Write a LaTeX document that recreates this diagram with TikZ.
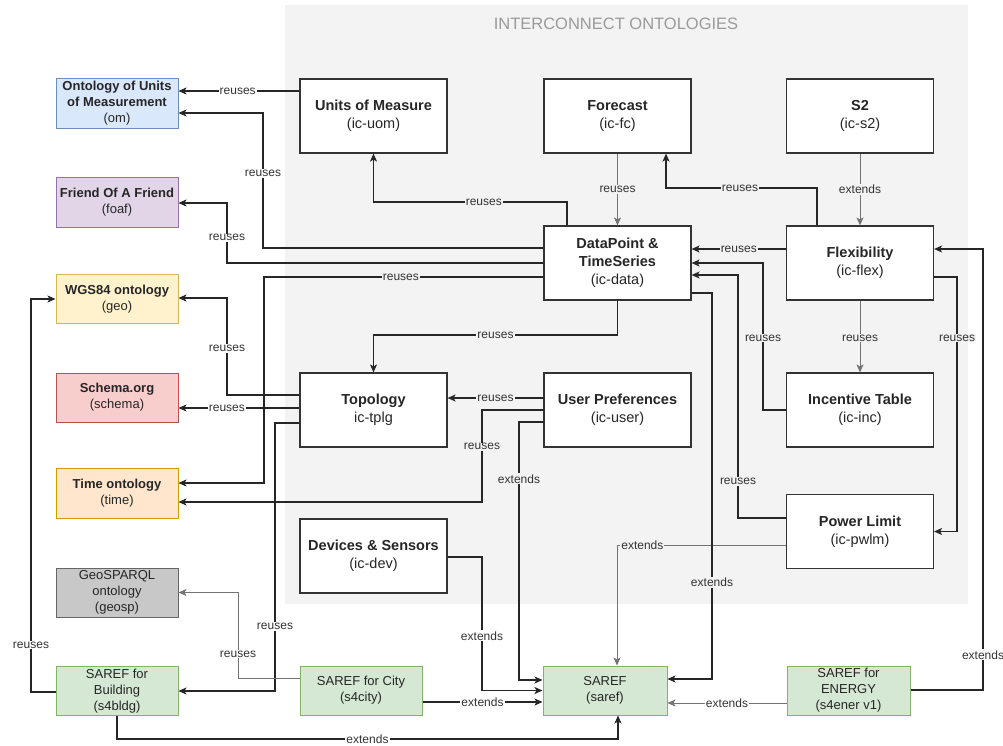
\documentclass[tikz,border=0pt]{standalone}
\usepackage{fontspec}
\setmainfont{Liberation Sans}
\usetikzlibrary{arrows.meta}
\definecolor{bggray}{HTML}{F3F3F3}
\definecolor{omf}{HTML}{DAE8FC}\definecolor{omd}{HTML}{6C8EBF}
\definecolor{fof}{HTML}{E1D5E7}\definecolor{fod}{HTML}{9673A6}
\definecolor{gef}{HTML}{FFF2CC}\definecolor{ged}{HTML}{D6B656}
\definecolor{scf}{HTML}{F8CECC}\definecolor{scd}{HTML}{B85450}
\definecolor{tif}{HTML}{FFE6CC}\definecolor{tid}{HTML}{D79B00}
\definecolor{gsf}{HTML}{C8C8C8}\definecolor{gsd}{HTML}{666666}
\definecolor{grf}{HTML}{D5E8D4}\definecolor{grd}{HTML}{82B366}
\definecolor{titlegray}{HTML}{9A9A9A}
\tikzset{
  icbox/.style={draw=black!80, line width=1.2pt, fill=white, minimum width=147pt, minimum height=74pt,
    align=center, font=\fontsize{14.5}{18}\selectfont, text=black!85, inner sep=2pt},
  extbox/.style={line width=1pt, minimum width=122pt, minimum height=49pt,
    align=center, font=\fontsize{13}{16}\selectfont, text=black!85, inner sep=1pt},
  arr/.style={draw=black!85, line width=1.1pt, -{Stealth[length=8pt,width=7pt,inset=2pt]}},
  larr/.style={arr, draw=black!55, line width=0.9pt},
  lblg/.style={fill=bggray, font=\fontsize{12}{12}\selectfont, text=black!80, inner sep=1pt},
  lblw/.style={lblg, fill=white},
}
\begin{document}
\begin{tikzpicture}[x=1pt,y=-1pt]
\useasboundingbox (0,0) rectangle (1003,745);
\fill[white] (0,0) rectangle (1003,745);
\fill[bggray] (285,5) rectangle (968,604);
\node[font=\fontsize{16.5}{18}\selectfont, text=titlegray] (title) at (616,24) {INTERCONNECT ONTOLOGIES};

% interconnect nodes
\node[icbox] (uom) at (373.5,116) {\textbf{Units of Measure}\\(ic-uom)};
\node[icbox] (fc) at (617.5,116) {\textbf{Forecast}\\(ic-fc)};
\node[icbox] (s2) at (860,116) {\textbf{S2}\\(ic-s2)};
\node[icbox] (data) at (617.5,263) {\textbf{DataPoint \&}\\\textbf{TimeSeries}\\(ic-data)};
\node[icbox] (flex) at (860,263) {\textbf{Flexibility}\\(ic-flex)};
\node[icbox] (tplg) at (373.5,410) {\textbf{Topology}\\ic-tplg};
\node[icbox] (user) at (617.5,410) {\textbf{User Preferences}\\(ic-user)};
\node[icbox] (inc) at (860,410) {\textbf{Incentive Table}\\(ic-inc)};
\node[icbox] (pwlm) at (860,531.5) {\textbf{Power Limit}\\(ic-pwlm)};
\node[icbox] (dev) at (373.5,556) {\textbf{Devices \& Sensors}\\(ic-dev)};

% external ontologies
\node[extbox, draw=omd, fill=omf, minimum height=50pt] (om) at (117,103) {\textbf{Ontology of Units}\\\textbf{of Measurement}\\(om)};
\node[extbox, draw=fod, fill=fof, minimum height=50pt] (foaf) at (117,202) {\textbf{Friend Of A Friend}\\(foaf)};
\node[extbox, draw=ged, fill=gef] (geo) at (117,299) {\textbf{WGS84 ontology}\\(geo)};
\node[extbox, draw=scd, fill=scf] (schema) at (117,397.5) {\textbf{Schema.org}\\(schema)};
\node[extbox, draw=tid, fill=tif, minimum height=50pt] (time) at (117,493) {\textbf{Time ontology}\\(time)};
\node[extbox, draw=gsd, fill=gsf] (geosp) at (117,592.5) {GeoSPARQL\\ontology\\(geosp)};
\node[extbox, draw=grd, fill=grf] (s4bldg) at (117,691) {SAREF for\\Building\\(s4bldg)};
\node[extbox, draw=grd, fill=grf] (s4city) at (361,690.5) {SAREF for City\\(s4city)};
\node[extbox, draw=grd, fill=grf, minimum width=124pt] (saref) at (605,690.5) {SAREF\\(saref)};
\node[extbox, draw=grd, fill=grf, minimum width=123pt] (s4ener) at (848.5,690.5) {SAREF for\\ENERGY\\(s4ener v1)};

% connectors
\draw[arr] ([yshift=25pt]uom.west) -- node[lblw,pos=0.51]{reuses} ([yshift=12pt]om.east);
\draw[arr] ([yshift=15pt]data.west) -- (263,248) -- node[lblw,pos=0.55]{reuses} (263,113) -- ([yshift=-10pt]om.east);
\draw[arr] (data.west) -- (227,263) -- node[lblw,pos=0.42]{reuses} (227,203) -- ([yshift=-1pt]foaf.east);
\draw[arr] ([yshift=-14pt]data.west) -- node[lblg,pos=0.51]{reuses} (264,277) -- (264,483) -- ([yshift=10pt]time.east);
\draw[arr] ([xshift=-50.5pt]data.north) -- (567,202) -- node[lblg,pos=0.43]{reuses} (373.5,202) -- (uom.south);
\draw[larr] (fc.south) -- node[lblg]{reuses} (data.north);
\draw[arr] ([xshift=-43pt]flex.north) -- (817,188) -- node[lblg,pos=0.51]{reuses} (666,188) -- ([xshift=48.5pt]fc.south);
\draw[larr] (s2.south) -- node[lblg]{extends} (flex.north);
\draw[arr] ([yshift=14pt]flex.west) -- node[lblg]{reuses} ([yshift=14pt]data.east);
\draw[arr] (inc.west) -- (763,410) -- node[lblg,pos=0.49]{reuses} (763,263) -- (data.east);
\draw[arr] ([yshift=13.5pt]pwlm.west) -- (738,518) -- node[lblg,pos=0.15]{reuses} (738,275) -- ([yshift=-12pt]data.east);
\draw[larr] (flex.south) -- node[lblg,pos=0.52]{reuses} (inc.north);
\draw[arr] ([yshift=-14pt]flex.east) -- (957,277) -- node[lblg,pos=0.24]{reuses} (957,531.5) -- (pwlm.east);
\draw[arr] (data.south) -- (617.5,335) -- node[lblg,pos=0.5]{reuses} (373.5,335) -- (tplg.north);
\draw[arr] ([yshift=12pt]user.west) -- node[lblg]{reuses} ([yshift=12pt]tplg.east);
\draw[arr] (user.west) -- (482,410) -- node[lblg,pos=0.4]{reuses} (482,502) -- ([yshift=-9pt]time.east);
\draw[arr] ([yshift=-12pt]user.west) -- (519,422) -- node[lblg,pos=0.22]{extends} (519,680) -- ([yshift=10.5pt]saref.west);
\draw[arr] ([yshift=-1pt]dev.east) -- (482,557) -- node[lblw,pos=0.59]{extends} (482,690.5) -- (saref.west);
\draw[arr] ([yshift=-11.5pt]s4city.east) -- node[lblw]{extends} ([yshift=-11.5pt]saref.west);
\draw[arr] (s4bldg.south) -- (117,739) -- node[lblw,pos=0.5]{extends} (618,739) -- ([xshift=13pt]saref.south);
\draw[larr] ([yshift=-13.5pt]pwlm.west) -- node[lblg,pos=0.85]{extends} (617,545) -- ([xshift=12pt]saref.north);
\draw[arr] ([yshift=-30pt]data.east) -- (712,293) -- node[lblg,pos=0.75]{extends} (712,679) -- ([yshift=11.5pt]saref.east);
\draw[larr] ([yshift=-12.5pt]s4ener.west) -- node[lblw]{extends} ([yshift=-12.5pt]saref.east);
\draw[arr] ([yshift=0.5pt]s4ener.east) -- (983,690) -- node[lblw,pos=0.08]{extends} (983,249) -- ([yshift=14pt]flex.east);
\draw[arr] ([yshift=15pt]tplg.west) -- (227,395) -- node[lblw,pos=0.48]{reuses} (227,298) -- ([yshift=1pt]geo.east);
\draw[arr] ([yshift=2pt]tplg.west) -- node[lblw,pos=0.6]{reuses} ([yshift=-10.5pt]schema.east);
\draw[arr] ([yshift=-13pt]tplg.west) -- (275,423) -- node[lblw,pos=0.76]{reuses} (275,691) -- (s4bldg.east);
\draw[larr] ([yshift=12.5pt]s4city.west) -- (238,678) -- node[lblw,pos=0.28]{reuses} (238,592.5) -- (geosp.east);
\draw[arr] ([yshift=-1pt]s4bldg.west) -- (31,692) -- node[lblw,pos=0.12]{reuses} (31,299) -- (geo.west);
\end{tikzpicture}
\end{document}
